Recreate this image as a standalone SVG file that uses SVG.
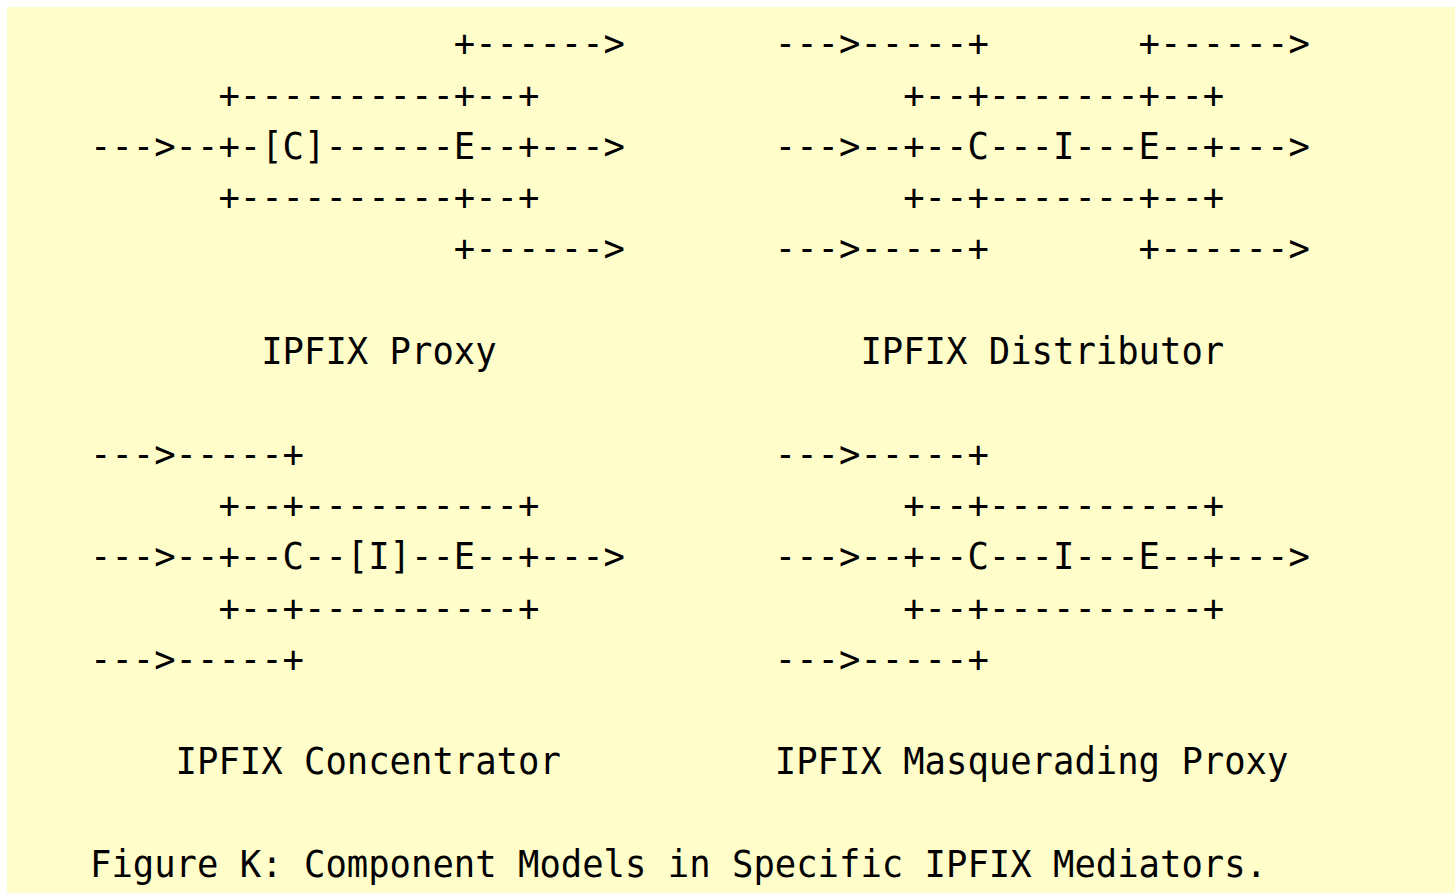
<svg xmlns="http://www.w3.org/2000/svg" width="1455" height="893" viewBox="0 0 1455 893">
<style>
.t{font-family:"DejaVu Sans Mono","Liberation Mono",monospace;font-size:37px;fill:#000;white-space:pre}
</style>
<rect x="0" y="0" width="1455" height="893" fill="#ffffff"/>
<rect x="7" y="7" width="1448" height="886" fill="#fffdca"/>
<g id="proxy">
<text class="t" x="453.8" y="56.2" textLength="171.2" lengthAdjust="spacingAndGlyphs">+------&gt;</text>
<text class="t" x="218.4" y="107.5" textLength="321" lengthAdjust="spacingAndGlyphs">+----------+--+</text>
<text class="t" x="90" y="158.8" textLength="535" lengthAdjust="spacingAndGlyphs">---&gt;--+-[C]------E--+---&gt;</text>
<text class="t" x="218.4" y="210.1" textLength="321" lengthAdjust="spacingAndGlyphs">+----------+--+</text>
<text class="t" x="453.8" y="261.4" textLength="171.2" lengthAdjust="spacingAndGlyphs">+------&gt;</text>
<text class="t" x="261.2" y="364" textLength="235.4" lengthAdjust="spacingAndGlyphs" xml:space="preserve">IPFIX Proxy</text>
</g>
<g id="distributor">
<text class="t" x="774.8" y="56.2" textLength="214" lengthAdjust="spacingAndGlyphs">---&gt;-----+</text>
<text class="t" x="1138.6" y="56.2" textLength="171.2" lengthAdjust="spacingAndGlyphs">+------&gt;</text>
<text class="t" x="903.2" y="107.5" textLength="321" lengthAdjust="spacingAndGlyphs">+--+-------+--+</text>
<text class="t" x="774.8" y="158.8" textLength="535" lengthAdjust="spacingAndGlyphs">---&gt;--+--C---I---E--+---&gt;</text>
<text class="t" x="903.2" y="210.1" textLength="321" lengthAdjust="spacingAndGlyphs">+--+-------+--+</text>
<text class="t" x="774.8" y="261.4" textLength="214" lengthAdjust="spacingAndGlyphs">---&gt;-----+</text>
<text class="t" x="1138.6" y="261.4" textLength="171.2" lengthAdjust="spacingAndGlyphs">+------&gt;</text>
<text class="t" x="860.4" y="364" textLength="363.8" lengthAdjust="spacingAndGlyphs" xml:space="preserve">IPFIX Distributor</text>
</g>
<g id="concentrator">
<text class="t" x="90" y="466.6" textLength="214" lengthAdjust="spacingAndGlyphs">---&gt;-----+</text>
<text class="t" x="218.4" y="517.9" textLength="321" lengthAdjust="spacingAndGlyphs">+--+----------+</text>
<text class="t" x="90" y="569.2" textLength="535" lengthAdjust="spacingAndGlyphs">---&gt;--+--C--[I]--E--+---&gt;</text>
<text class="t" x="218.4" y="620.5" textLength="321" lengthAdjust="spacingAndGlyphs">+--+----------+</text>
<text class="t" x="90" y="671.8" textLength="214" lengthAdjust="spacingAndGlyphs">---&gt;-----+</text>
<text class="t" x="175.6" y="774.4" textLength="385.2" lengthAdjust="spacingAndGlyphs" xml:space="preserve">IPFIX Concentrator</text>
</g>
<g id="masquerading-proxy">
<text class="t" x="774.8" y="466.6" textLength="214" lengthAdjust="spacingAndGlyphs">---&gt;-----+</text>
<text class="t" x="903.2" y="517.9" textLength="321" lengthAdjust="spacingAndGlyphs">+--+----------+</text>
<text class="t" x="774.8" y="569.2" textLength="535" lengthAdjust="spacingAndGlyphs">---&gt;--+--C---I---E--+---&gt;</text>
<text class="t" x="903.2" y="620.5" textLength="321" lengthAdjust="spacingAndGlyphs">+--+----------+</text>
<text class="t" x="774.8" y="671.8" textLength="214" lengthAdjust="spacingAndGlyphs">---&gt;-----+</text>
<text class="t" x="774.8" y="774.4" textLength="513.6" lengthAdjust="spacingAndGlyphs" xml:space="preserve">IPFIX Masquerading Proxy</text>
</g>
<g id="caption">
<text class="t" x="90" y="877" textLength="1177" lengthAdjust="spacingAndGlyphs" xml:space="preserve">Figure K: Component Models in Specific IPFIX Mediators.</text>
</g>
</svg>
